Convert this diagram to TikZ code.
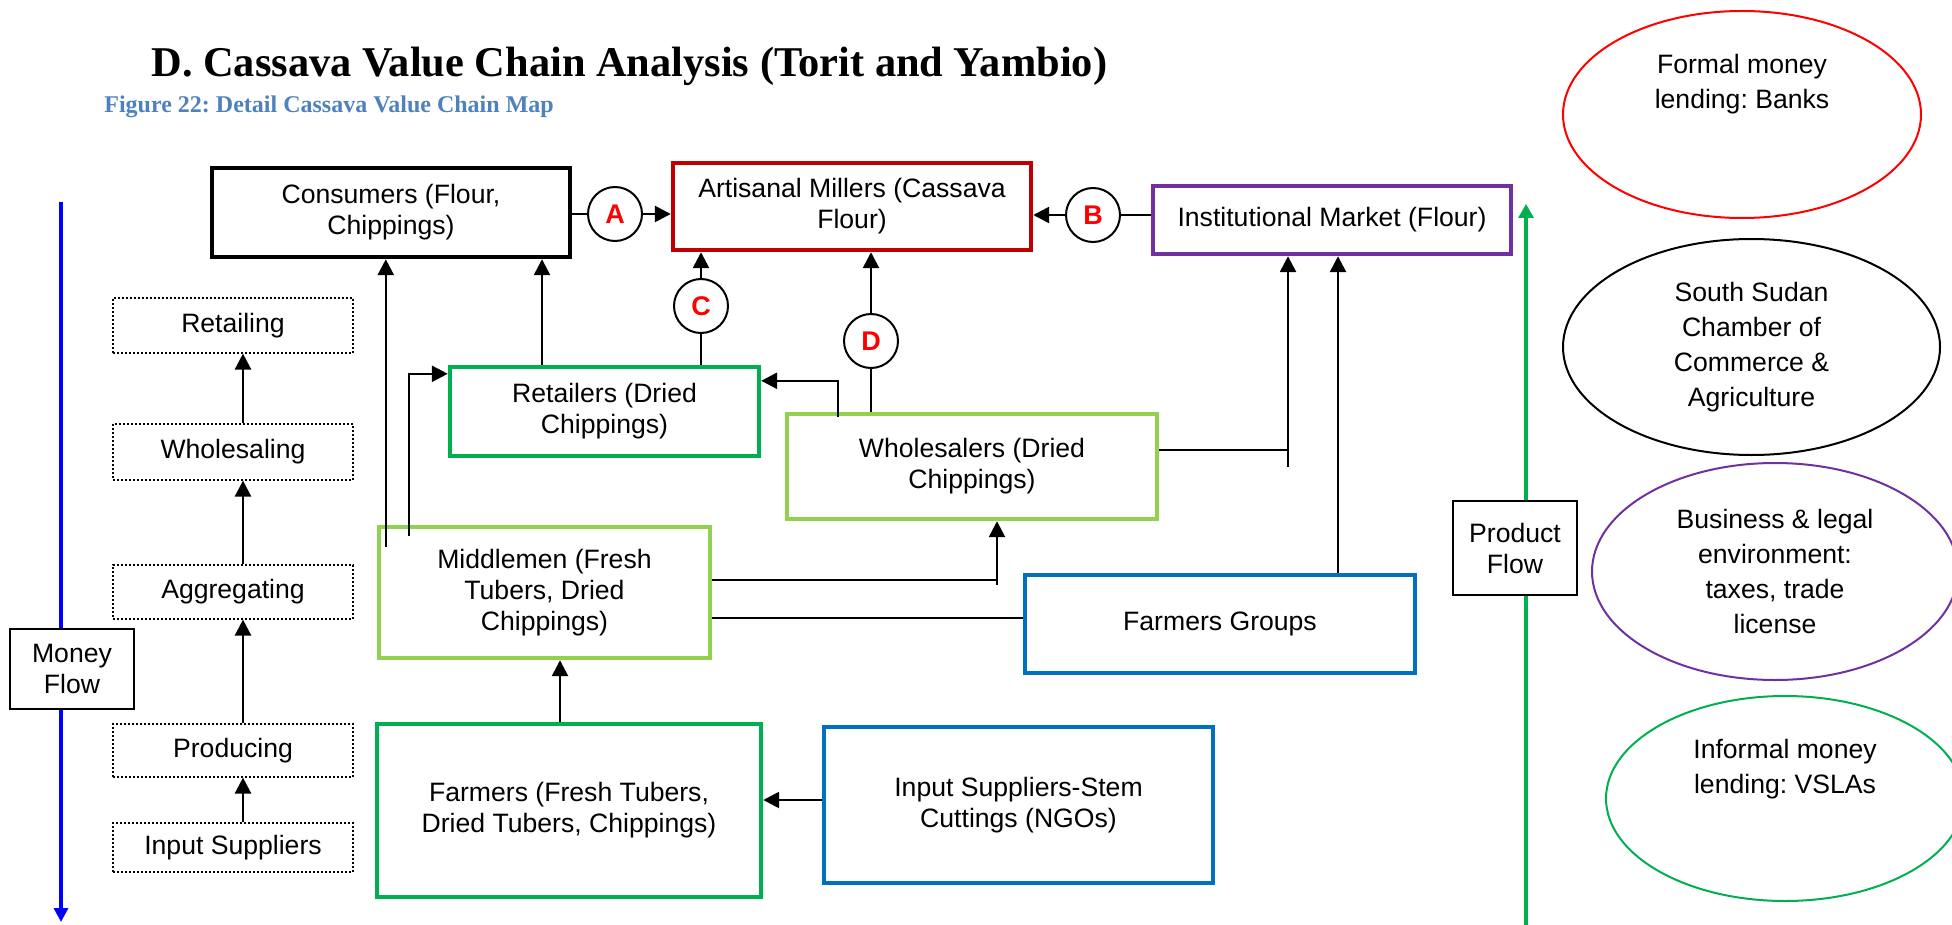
\documentclass[tikz,border=0pt]{standalone}
\usepackage{fontspec}
\setmainfont{Liberation Sans}
\newfontfamily\headfont{Liberation Serif}
\usepackage{tikz}
\usetikzlibrary{arrows.meta,shapes.geometric,calc}
\definecolor{millred}{HTML}{C00000}
\definecolor{instpurple}{HTML}{7030A0}
\definecolor{darkgreen}{HTML}{00B050}
\definecolor{lightgreen}{HTML}{92D050}
\definecolor{boxblue}{HTML}{0070C0}
\definecolor{figblue}{HTML}{4F81BD}
\frenchspacing

\begin{document}
\begin{tikzpicture}[
  x = 0.5pt, y = -0.5pt,
  every node/.style = {font = \fontsize{13.3}{15.5}\selectfont, align = center},
  box/.style = {draw = #1, line width = 2.2pt, inner sep = 0pt, fill = white},
  stage/.style = {draw, dash pattern = on 1pt off 1pt, line width = 0.6pt,
                  minimum width = 120pt, inner sep = 0pt},
  flowbox/.style = {draw, line width = 1.2pt, fill = white, inner sep = 0pt},
  letter/.style = {draw, circle, line width = 1pt, minimum size = 27pt, inner sep = 0pt,
                   fill = white, text = red, font = \fontsize{13.5}{15}\selectfont\bfseries},
  ell/.style = {draw = #1, ellipse, line width = 1pt, inner sep = 0pt,
                font = \fontsize{13.3}{17.5}\selectfont},
  link/.style = {line width = 1.3pt},
  arr/.style = {link, -{Triangle[width = 8pt, length = 8pt]}}
  ]
  \useasboundingbox (0,0) rectangle (1952,925);

  \node[anchor = base west, inner sep = 0pt, font = \headfont\bfseries\fontsize{21.2}{26}\selectfont]
    (title) at (151,77) {D. Cassava Value Chain Analysis (Torit and Yambio)};
  \node[anchor = base west, inner sep = 0pt, text = figblue, font = \headfont\bfseries\fontsize{12}{14}\selectfont]
    (caption) at (104,113) {Figure 22: Detail Cassava Value Chain Map};

  \coordinate (mtop) at (61,202);
  \coordinate (mbot) at (61,922);
  \coordinate (pbot) at (1526,925);
  \coordinate (ptop) at (1526,204);
  \draw[line width = 1.6pt, blue, -{Triangle[width = 7pt, length = 7pt]}] (mtop) -- (mbot);
  \draw[line width = 1.6pt, darkgreen, -{Triangle[width = 7.5pt, length = 7pt]}] (pbot) -- (ptop);
  \node[flowbox, minimum width = 62pt, minimum height = 40pt] (money) at (72,669) {Money\\Flow};
  \node[flowbox, minimum width = 62pt, minimum height = 47pt] (product) at (1515,548) {Product\\Flow};

  \foreach \n/\t/\y/\h in {stret/Retailing/325.5/27.5, stwhole/Wholesaling/452/28,
                           stagg/Aggregating/592/27, stprod/Producing/750.5/26.5,
                           stinp/Input Suppliers/847.5/24.5}
    \node[stage, minimum height = \h pt] (\n) at (233,\y) {\t};
  \foreach \a/\b in {stinp/stprod, stprod/stagg, stagg/stwhole, stwhole/stret}
    \draw[arr] ([xshift = 5pt]\a.north) -- ([xshift = 5pt]\b.south);

  \node[box = black, minimum width = 179pt, minimum height = 44.5pt] (cons) at (391,212.5) {Consumers (Flour,\\Chippings)};
  \node[box = millred, minimum width = 179pt, minimum height = 43.5pt] (art) at (852,206.5) {Artisanal Millers (Cassava\\Flour)};
  \node[box = instpurple, minimum width = 179pt, minimum height = 34pt] (inst) at (1332,220) {Institutional Market (Flour)};
  \node[box = darkgreen, minimum width = 154.5pt, minimum height = 44.5pt] (ret) at (604.5,411.5) {Retailers (Dried\\Chippings)};
  \node[box = lightgreen, minimum width = 185pt, minimum height = 52.5pt] (whole) at (972,466.5) {Wholesalers (Dried\\Chippings)};
  \node[box = lightgreen, minimum width = 165.5pt, minimum height = 65.5pt] (mid) at (544.5,592.5) {Middlemen (Fresh\\Tubers, Dried\\Chippings)};
  \node[box = boxblue, minimum width = 195pt, minimum height = 49pt] (fg) at (1220,624) {Farmers Groups};
  \node[box = darkgreen, minimum width = 192pt, minimum height = 86.5pt] (farm) at (569,810.5) {Farmers (Fresh Tubers,\\Dried Tubers, Chippings)};
  \node[box = boxblue, minimum width = 194.5pt, minimum height = 78pt] (inp) at (1018.5,805) {Input Suppliers-Stem\\Cuttings (NGOs)};

  \node[letter] (A) at (615,214) {A};
  \node[letter] (B) at (1093,215) {B};
  \node[letter] (C) at (701,306) {C};
  \node[letter] (D) at (871,341) {D};

  \draw[link] (A.west) -- (A.west -| cons.east);
  \draw[arr] (A.east) -- (A.east -| art.west);
  \draw[link] (B.east) -- (B.east -| inst.west);
  \draw[arr] (B.west) -- (B.west -| art.east);
  \draw[link] (C.south) -- (C.south |- ret.north);
  \draw[arr] (C.north) -- (C.north |- art.south);
  \draw[link] (D.south) -- (D.south |- whole.north);
  \draw[arr] (D.north) -- (D.north |- art.south);

  \draw[arr] ([xshift = -31.25pt]ret.north) -- ([xshift = -31.25pt]ret.north |- cons.south);
  \coordinate (mc) at ($(mid.north west)+(9,22)$);
  \draw[arr] (mc) -- (mc |- cons.south);
  \coordinate (mr) at ($(mid.north west)+(32,11)$);
  \draw[arr] (mr) |- ($(ret.north west)+(0,9)$);
  \coordinate (wr) at ($(whole.north west)+(53,5)$);
  \draw[arr] (wr) |- ($(ret.north east)+(0,16)$);

  \coordinate (wiT) at (1288,450);
  \coordinate (wiB) at (1288,467);
  \draw[link] (whole.east |- wiT) -- (wiT);
  \draw[arr] (wiB) -- (wiB |- inst.south);
  \draw[arr] ([xshift = 59pt]fg.north) -- ([xshift = 59pt]fg.north |- inst.south);

  \coordinate (mwT) at (997,580);
  \coordinate (mwB) at (997,585);
  \draw[link] (mid.east |- mwT) -- (mwT);
  \draw[arr] (mwB) -- (mwB |- whole.south);
  \coordinate (mf) at (800,618);
  \draw[link] (mid.east |- mf) -- (fg.west |- mf);

  \draw[arr] ([xshift = -4.5pt]farm.north) -- ([xshift = -4.5pt]farm.north |- mid.south);
  \draw[arr] ([yshift = 2.5pt]inp.west) -- ([yshift = 2.5pt]inp.west -| farm.east);

  \node[ell = red, minimum width = 179pt, minimum height = 103.5pt] (banks) at (1742,114.5) {};
  \node[font = \fontsize{13.3}{17.5}\selectfont] (bankstxt) at (1742,84) {Formal money\\lending: Banks};
  \node[ell = black, minimum width = 188.5pt, minimum height = 108pt] (chamber) at (1751.5,347) {South Sudan\\Chamber of\\Commerce \&\\Agriculture};
  \node[ell = instpurple, minimum width = 183pt, minimum height = 108.5pt] (legal) at (1775,571.5) {Business \& legal\\environment:\\taxes, trade\\license};
  \node[ell = darkgreen, minimum width = 179pt, minimum height = 102.5pt] (vsla) at (1785,798.5) {};
  \node[font = \fontsize{13.3}{17.5}\selectfont] (vslatxt) at (1785,769) {Informal money\\lending: VSLAs};
\end{tikzpicture}
\end{document}
